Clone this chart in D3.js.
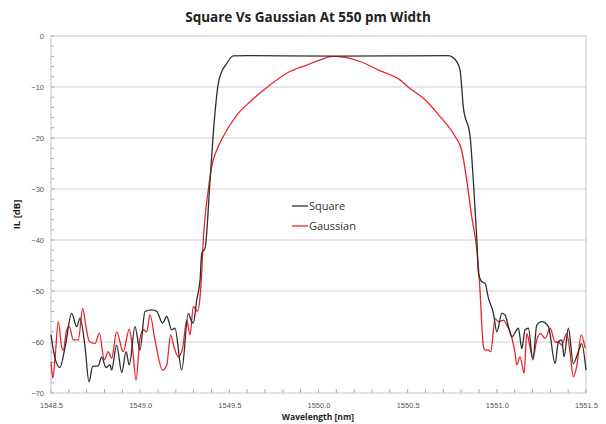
<!DOCTYPE html>
<html>
<head>
<meta charset="utf-8">
<script src="https://cdn.jsdelivr.net/npm/d3@7"></script>
<style>
  body { margin: 0; background: #fff; }
  svg { display: block; font-family: "Open Sans", "Noto Sans", sans-serif; }
</style>
</head>
<body>
<div id="chart"></div>
<script>
const squareWl = [1548.500, 1548.522, 1548.550, 1548.579, 1548.616, 1548.644, 1548.663, 1548.691, 1548.713, 1548.734,
  1548.765, 1548.784, 1548.808, 1548.831, 1548.840, 1548.868, 1548.897, 1548.921, 1548.939, 1548.971,
  1548.999, 1549.027, 1549.065, 1549.093, 1549.126, 1549.149, 1549.177, 1549.195, 1549.233, 1549.270,
  1549.289, 1549.298, 1549.317, 1549.336, 1549.345, 1549.364, 1549.392, 1549.410, 1549.438, 1549.457,
  1549.485, 1549.522, 1549.600, 1549.800, 1550.100, 1550.400, 1550.728, 1550.775, 1550.794, 1550.812,
  1550.850, 1550.868, 1550.888, 1550.897, 1550.916, 1550.934, 1550.953, 1550.981, 1551.000, 1551.028,
  1551.046, 1551.065, 1551.084, 1551.121, 1551.140, 1551.158, 1551.177, 1551.202, 1551.224, 1551.252,
  1551.289, 1551.327, 1551.345, 1551.364, 1551.377, 1551.401, 1551.429, 1551.457, 1551.476, 1551.500];
const squareIL = [-58.6, -63.1, -65.0, -61.0, -54.4, -57.0, -55.3, -61.0, -67.8, -64.8,
  -64.7, -62.9, -65.0, -64.5, -65.5, -60.6, -66.0, -61.9, -64.5, -57.0,
  -61.6, -54.0, -53.7, -54.0, -56.3, -55.0, -57.6, -57.3, -65.5, -54.4,
  -56.0, -56.3, -51.8, -47.8, -42.6, -41.6, -28.2, -19.1, -9.3, -7.0,
  -5.4, -3.9, -3.85, -3.9, -3.95, -3.9, -3.85, -5.0, -6.7, -13.9,
  -19.7, -28.2, -40.0, -46.5, -48.2, -48.5, -51.4, -54.4, -58.0, -54.4,
  -54.7, -57.0, -59.0, -57.3, -61.3, -57.6, -57.3, -63.5, -56.7, -56.0,
  -57.0, -64.2, -60.0, -59.6, -62.9, -57.3, -64.2, -61.9, -60.3, -65.5];

const gaussWl = [1548.500, 1548.510, 1548.522, 1548.541, 1548.560, 1548.569, 1548.588, 1548.603, 1548.625, 1548.653,
  1548.678, 1548.696, 1548.715, 1548.747, 1548.771, 1548.799, 1548.821, 1548.840, 1548.868, 1548.905,
  1548.939, 1548.958, 1548.977, 1548.999, 1549.018, 1549.037, 1549.055, 1549.083, 1549.126, 1549.149,
  1549.171, 1549.190, 1549.214, 1549.239, 1549.261, 1549.280, 1549.298, 1549.321, 1549.336, 1549.343,
  1549.354, 1549.382, 1549.401, 1549.429, 1549.466, 1549.542, 1549.616, 1549.728, 1549.822, 1549.934,
  1550.009, 1550.082, 1550.149, 1550.233, 1550.345, 1550.457, 1550.513, 1550.588, 1550.682, 1550.766,
  1550.803, 1550.831, 1550.859, 1550.888, 1550.902, 1550.925, 1550.934, 1550.953, 1550.966, 1550.990,
  1551.009, 1551.037, 1551.056, 1551.074, 1551.102, 1551.112, 1551.130, 1551.153, 1551.168, 1551.186,
  1551.202, 1551.224, 1551.243, 1551.271, 1551.299, 1551.327, 1551.345, 1551.364, 1551.392, 1551.411,
  1551.429, 1551.448, 1551.473, 1551.495];
const gaussIL = [-63.9, -67.1, -63.5, -56.0, -61.0, -61.6, -57.6, -57.0, -59.6, -59.6,
  -53.4, -57.0, -59.9, -60.3, -58.3, -63.5, -61.9, -63.2, -58.0, -61.9,
  -57.5, -61.6, -67.5, -59.3, -57.6, -58.0, -54.7, -59.6, -65.5, -64.5,
  -58.6, -61.0, -62.9, -61.0, -55.7, -58.6, -53.0, -54.0, -51.1, -47.8,
  -40.0, -30.2, -25.6, -22.4, -19.7, -15.5, -12.9, -9.6, -7.3, -5.7,
  -4.7, -4.0, -4.2, -5.0, -6.8, -8.6, -10.3, -12.2, -15.8, -19.7,
  -22.4, -28.2, -35.4, -42.0, -47.8, -60.9, -61.6, -61.6, -61.9, -55.4,
  -56.0, -55.7, -56.7, -58.0, -62.2, -64.5, -62.9, -66.1, -58.3, -61.0,
  -63.2, -59.6, -58.3, -59.3, -57.3, -60.0, -60.0, -60.6, -58.3, -62.2,
  -66.8, -64.8, -58.6, -61.2];

const xTicks = [1548.5, 1549.0, 1549.5, 1550.0, 1550.5, 1551.0, 1551.5];
const yTicks = [0, -10, -20, -30, -40, -50, -60, -70];

const width = 606;
const height = 424;
const padding = { top: 36, bottom: 31, left: 51, right: 20 };

const xScale = d3.scaleLinear([1548.5, 1551.5], [padding.left, width - padding.right]);
const yScale = d3.scaleLinear([-70, 0], [height - padding.bottom, padding.top]);

const svg = d3.select("#chart").append("svg")
  .attr("width", width)
  .attr("height", height);

svg.append("text")
  .attr("x", 308).attr("y", 22)
  .attr("text-anchor", "middle")
  .attr("font-size", 13.5)
  .attr("font-weight", "bold")
  .attr("fill", "#222")
  .text("Square Vs Gaussian At 550 pm Width");

// gridlines
svg.append("g")
  .selectAll("line")
  .data(yTicks.slice(1, -1))
  .join("line")
  .attr("x1", xScale.range()[0]).attr("x2", xScale.range()[1])
  .attr("y1", (d) => yScale(d)).attr("y2", (d) => yScale(d))
  .attr("stroke", "#cfcfcf");

// frame
svg.append("rect")
  .attr("x", xScale.range()[0]).attr("y", yScale.range()[1])
  .attr("width", xScale.range()[1] - xScale.range()[0])
  .attr("height", yScale.range()[0] - yScale.range()[1])
  .attr("fill", "none")
  .attr("stroke", "#c4c4c4");

// minor ticks, drawn inward
const xMinor = d3.range(0, 31).map((i) => 1548.5 + i * 0.1);
svg.append("g")
  .selectAll("line")
  .data(xMinor)
  .join("line")
  .attr("x1", (d) => xScale(d)).attr("x2", (d) => xScale(d))
  .attr("y1", yScale(-70)).attr("y2", yScale(-70) - 4)
  .attr("stroke", "#aaa");

const yMinor = d3.range(0, 36).map((i) => -i * 2);
svg.append("g")
  .selectAll("line")
  .data(yMinor)
  .join("line")
  .attr("x1", xScale(1548.5)).attr("x2", xScale(1548.5) + 3)
  .attr("y1", (d) => yScale(d)).attr("y2", (d) => yScale(d))
  .attr("stroke", "#aaa");

const xAxis = d3.axisBottom(xScale)
  .tickValues(xTicks)
  .tickSize(0)
  .tickPadding(10)
  .tickFormat(d3.format(".1f"));
svg.append("g")
  .attr("transform", `translate(0, ${yScale(-70)})`)
  .call(xAxis)
  .call((g) => g.select(".domain").remove())
  .selectAll("text")
  .attr("font-size", 7.5)
  .attr("fill", "#555");

const yAxis = d3.axisLeft(yScale)
  .tickValues(yTicks)
  .tickSize(0)
  .tickPadding(7);
svg.append("g")
  .attr("transform", `translate(${xScale(1548.5)}, 0)`)
  .call(yAxis)
  .call((g) => g.select(".domain").remove())
  .selectAll("text")
  .attr("font-size", 7.5)
  .attr("fill", "#555");

svg.append("text")
  .attr("x", 318).attr("y", 420)
  .attr("text-anchor", "middle")
  .attr("font-size", 8.5)
  .attr("font-weight", "bold")
  .attr("fill", "#222")
  .text("Wavelength [nm]");

svg.append("text")
  .attr("transform", `translate(20, ${yScale(-35)}) rotate(-90)`)
  .attr("text-anchor", "middle")
  .attr("font-size", 9.5)
  .attr("font-weight", "bold")
  .attr("fill", "#222")
  .text("IL [dB]");

const line = d3.line()
  .x((d) => xScale(d[0]))
  .y((d) => yScale(d[1]))
  .curve(d3.curveMonotoneX);

const series = [
  { name: "Gaussian", wl: gaussWl, il: gaussIL, color: "#e8262b" },
  { name: "Square", wl: squareWl, il: squareIL, color: "#2e2e2e" },
];

svg.append("g")
  .selectAll("path")
  .data(series)
  .join("path")
  .attr("d", (s) => line(d3.zip(s.wl, s.il)))
  .attr("fill", "none")
  .attr("stroke", (s) => s.color)
  .attr("stroke-width", 1.3)
  .attr("stroke-linejoin", "round");

// legend
const legend = svg.append("g")
  .selectAll("g")
  .data(["Square", "Gaussian"].map((n) => series.find((s) => s.name === n)))
  .join("g")
  .attr("transform", (d, i) => `translate(292, ${206 + i * 20})`);
legend.append("line")
  .attr("x1", 0).attr("x2", 16)
  .attr("stroke", (d) => d.color)
  .attr("stroke-width", 1.3);
legend.append("text")
  .attr("x", 17).attr("dy", "0.35em")
  .attr("font-size", 11)
  .attr("fill", "#333")
  .text((d) => d.name);
</script>
</body>
</html>
